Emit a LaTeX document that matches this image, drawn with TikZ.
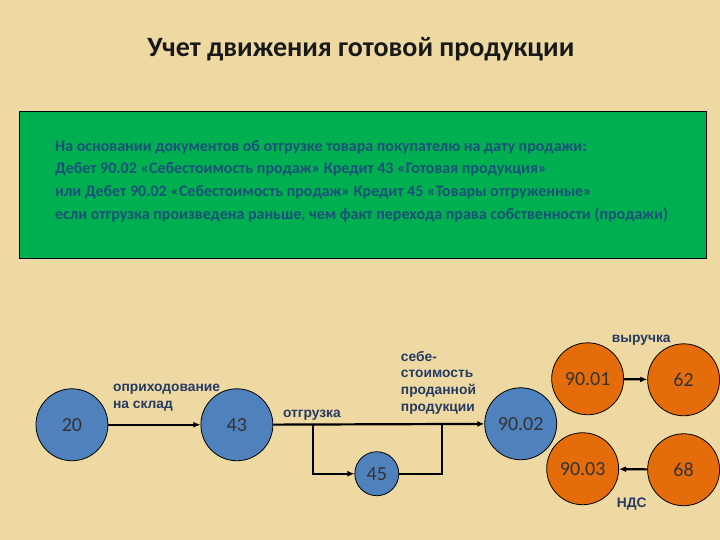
\documentclass[tikz,border=0pt]{standalone}
\usepackage{fontspec}
\setmainfont{Carlito}
\newfontfamily\arialfont{Liberation Sans}
\usepackage{tikz}
\usetikzlibrary{arrows.meta, positioning}

\definecolor{paper}{RGB}{238,217,163}
\definecolor{boxgreen}{RGB}{0,176,80}
\definecolor{boxtext}{RGB}{28,80,120}
\definecolor{acctblue}{RGB}{79,129,189}
\definecolor{acctorange}{RGB}{228,108,10}
\definecolor{labelblue}{RGB}{38,58,98}

\begin{document}
\begin{tikzpicture}[
    x=1pt, y=-1pt,
    >={Latex[length=7pt,width=6pt]},
    acct/.style={circle, draw=black, line width=0.8pt, fill=#1, minimum size=72pt, inner sep=0pt, text=black!80, font=\fontsize{20}{22}\selectfont},
    flow/.style={->, line width=2.2pt},
    link/.style={line width=2.2pt},
    flowlabel/.style={font=\arialfont\bfseries\fontsize{13.8}{16.7}\selectfont, text=labelblue, align=left, inner sep=0pt},
]
    % Background
    \fill[paper] (0,0) rectangle (720,540);

    % Title
    \node[anchor=base, font=\bfseries\fontsize{28}{32}\selectfont, text=black!90] (title) at (361,57) {Учет движения готовой продукции};

    % Green box with the entries
    \node[draw=black, line width=0.8pt, fill=boxgreen, minimum width=687pt, minimum height=147pt, anchor=north west] (basis) at (19,111) {};
    \node[anchor=north west, align=left, inner sep=0pt, text=boxtext, font=\bfseries\fontsize{16}{22.7}\selectfont] (basistext) at (55,140)
        {На основании документов об отгрузке товара покупателю на дату продажи:\\
         Дебет 90.02 «Себестоимость продаж» Кредит 43 «Готовая продукция»\\
         или Дебет 90.02 «Себестоимость продаж» Кредит 45 «Товары отгруженные»\\
         если отгрузка произведена раньше, чем факт перехода права собственности (продажи)};

    % Accounts
    \node[acct=acctblue] (a20) at (72,425) {20};
    \node[acct=acctblue] (a43) at (237,425) {43};
    \node[acct=acctblue, minimum size=44pt] (a45) at (377,474) {45};
    \node[acct=acctblue] (a9002) at (521,424) {90.02};
    \node[acct=acctorange] (a9001) at (588,379) {90.01};
    \node[acct=acctorange] (a62) at (684,380) {62};
    \node[acct=acctorange] (a9003) at (583,469) {90.03};
    \node[acct=acctorange] (a68) at (684,470) {68};

    % Arrows
    \coordinate (split) at (313,425);
    \coordinate (merge) at (442,425);
    \draw[flow] (a20) -- (a43);
    \draw[flow] (a43) -- (a9002);
    \draw[flow] (split) |- (a45);
    \draw[link] (a45) -| (merge);
    \draw[flow] (a9001) -- (a62);
    \draw[flow] (a68) -- (a9003);

    % Labels
    \node[flowlabel, anchor=north west] (lblin) at (113,384) {оприходование\\на склад};
    \node[flowlabel, anchor=base west] (lblout) at (283,418) {отгрузка};
    \node[flowlabel, anchor=north west] (lblcost) at (401,351) {себе-\\стоимость\\проданной\\продукции};
    \node[flowlabel, anchor=base west] (lblrev) at (612,343) {выручка};
    \node[flowlabel, anchor=base west] (lblvat) at (617,508) {НДС};

\end{tikzpicture}
\end{document}
